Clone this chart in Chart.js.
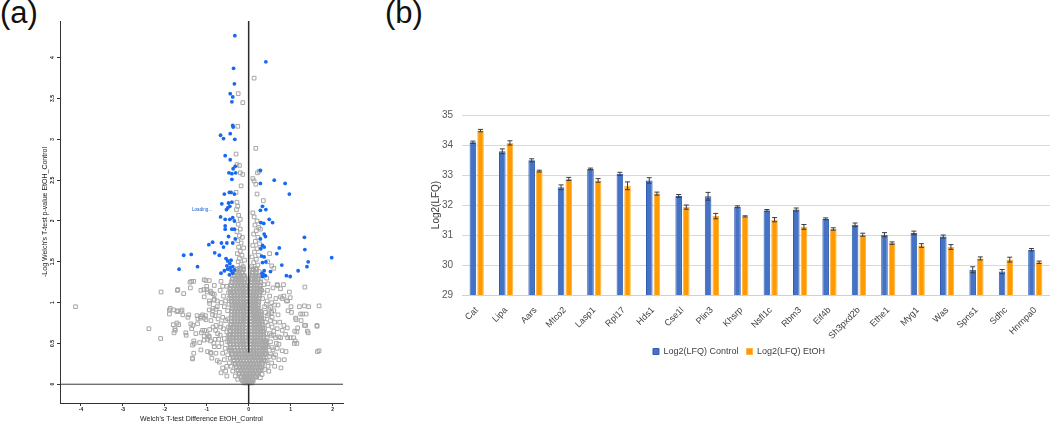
<!DOCTYPE html>
<html><head><meta charset="utf-8">
<script src="https://cdn.jsdelivr.net/npm/chart.js@4.4.0/dist/chart.umd.min.js"></script>
<style>
html,body{margin:0;padding:0;background:#fff;width:1050px;height:423px;overflow:hidden;font-family:"Liberation Sans",Arial,sans-serif;}
.panel{position:absolute;}
.lbl{position:absolute;font-size:31px;color:#111;line-height:1;}
</style></head><body>
<div class="lbl" style="left:0;top:-3px">(a)</div>
<div class="lbl" style="left:385px;top:-3px">(b)</div>
<div class="panel" style="left:0;top:0;width:360px;height:423px"><canvas id="ca"></canvas></div>
<div style="position:absolute;left:192px;top:207px;font-size:4.6px;color:#1a5fd0;white-space:nowrap">Loading...</div>
<div class="panel" style="left:428px;top:0;width:622px;height:423px"><canvas id="cb"></canvas></div>
<script>
// ---------- Panel (a) volcano data ----------
const sigPoints = [
[-0.33,4.27],[0.41,3.95],[-0.36,3.87],[-0.34,3.68],[-0.44,3.56],[-0.38,3.52],[-0.40,3.46],
[-0.38,3.17],[-0.37,3.15],[-0.67,3.05],[-0.60,3.01],[-0.44,3.07],[-0.33,3.00],[-0.56,2.80],[-0.44,2.75],
[-0.32,2.67],[-0.37,2.64],[-0.47,2.59],[-0.40,2.58],[-0.31,2.59],[-0.40,2.51],
[-0.58,2.33],[-0.46,2.35],[-0.42,2.35],[-0.34,2.33],[-0.64,2.21],[-0.48,2.22],[-0.40,2.23],[-0.50,2.16],[-0.45,2.18],[-0.53,2.14],
[-0.67,2.05],[-0.56,2.02],[-0.45,2.02],[-0.38,2.04],[-0.34,2.00],[-0.56,1.94],[-0.56,1.90],[-0.40,1.90],[-0.34,1.90],
[-0.48,1.81],[-0.32,1.78],[-0.38,1.73],[-0.95,1.71],[-0.86,1.74],[-0.65,1.73],[-0.60,1.68],[-0.52,1.73],
[-0.81,1.61],[-0.70,1.58],[-1.55,1.58],[-1.37,1.59],[-1.66,1.41],[-1.22,1.44],
[-0.54,1.54],[-0.50,1.51],[-0.45,1.48],[-0.42,1.52],[-0.52,1.45],[-0.44,1.43],[-0.38,1.44],
[-0.66,1.36],[-0.58,1.39],[-0.50,1.41],[-0.46,1.34],[-0.38,1.36],[-0.34,1.40],[-0.42,1.39],
[0.28,2.62],[0.28,2.46],[0.61,2.50],[0.87,2.46],[0.97,2.33],[0.33,2.18],[0.41,2.14],[0.28,2.13],
[0.49,2.02],[0.57,1.98],[0.29,1.98],[0.36,1.97],[0.37,1.84],[0.40,1.81],[0.28,1.78],[0.33,1.70],[0.29,1.66],[0.37,1.68],
[0.73,1.67],[0.67,1.60],[1.33,1.80],[1.34,1.65],[1.42,1.50],[1.39,1.44],[1.98,1.55],[0.79,1.46],
[0.31,1.57],[0.37,1.56],[0.41,1.50],[0.33,1.49],[0.52,1.38],[0.32,1.36],[0.36,1.34],[0.40,1.33],[0.33,1.32],[0.37,1.39],
[0.90,1.33],[0.99,1.32],[1.18,1.39]
];
const grayOutliers = [
[-4.13,0.95],[-2.38,0.68],[-2.10,0.56],[-2.09,1.13],[-1.89,0.91],[-1.89,0.86],[-1.71,0.89],[-1.61,0.89],[-1.57,0.85],
[-1.80,0.73],[-1.76,0.68],[-1.78,0.63],[-1.69,1.16],[-1.55,1.11],[-1.49,0.60],[-1.45,0.82],[-1.40,1.25],[-1.36,1.26],
[-1.31,1.26],[-1.39,1.18],[-1.33,0.72],[-1.36,0.68],[-1.34,0.48],[-1.34,0.32],[-1.21,0.80],[-1.15,0.81],[-1.10,0.85],
[-1.06,0.81],[-1.13,0.63],[-1.06,0.59],[-0.98,0.55],[-1.17,0.51],[-1.02,1.27],[-0.98,0.40],[-1.07,1.16],[-0.99,1.13],
[-0.91,1.14],[-0.82,1.21],[-0.94,1.02],[-0.86,0.90],[-0.88,0.32],[-0.82,0.46],[-0.78,0.38],[-0.66,1.26],[-0.62,1.20],
[-1.70,1.15],[-1.87,0.93],[-1.79,0.91],[-1.69,0.90],[-1.59,0.91],[-1.43,0.85],[-1.23,0.84],[-1.03,0.84],
[-1.71,0.75],[-1.67,0.73],[-1.75,0.66],[-1.38,0.74],[-1.50,0.63],[-1.05,0.66],[-0.93,0.67],[-0.99,0.61],[-0.95,0.59],
[-1.31,0.53],[-0.91,0.53],[-0.91,0.39],[-1.31,0.38],[-0.94,1.27],[-1.00,1.16],[-0.90,1.12],[-0.82,1.10],[-0.93,0.99],
[-0.85,0.93],[-0.82,1.04],[-1.06,1.28],[-1.00,1.20],[-1.14,1.15],[-1.06,1.07],[-0.86,1.11],[-0.83,1.03],[-0.75,0.95],
[-0.94,0.91],[-0.86,0.85],[-1.14,0.83],[-1.02,0.79],[-1.22,0.74],[-1.10,0.66],[-1.26,0.62],[-0.94,0.58],[-0.79,0.66],
[-0.67,0.70],[-1.06,0.54],[-0.83,0.50],[-0.71,0.46],[-1.14,0.42],[-0.90,0.38],[-0.75,0.29],[-1.30,0.50],[-1.34,0.31],
[-0.68,1.15],[-0.60,1.08],[-0.65,1.00],[-0.58,0.95],[-0.70,0.88],[-0.62,0.82],[-0.55,0.78],[-0.66,0.74],[-0.60,0.68],
[-0.52,0.64],[-0.68,0.60],[-0.58,0.56],[-0.50,0.52],[-0.64,0.50],[-0.56,0.44],[-0.62,0.38],[-0.50,0.36],[-0.58,0.30],
[-0.46,0.26],[-0.52,0.22],[-0.70,0.27],[-0.48,1.12],[-0.52,1.20],[-0.55,1.02],[-0.50,0.90],[-0.48,0.70],[-0.72,0.55],
[-0.78,0.72],[-0.75,1.02],[-0.80,0.84],
[1.68,0.96],[1.29,0.86],[1.33,0.96],[1.25,0.78],[1.37,0.86],[1.63,0.71],[1.42,0.63],[1.33,0.72],[1.68,0.41],[1.09,0.50],
[1.15,0.50],[0.93,0.57],[0.99,0.57],[0.97,1.13],[0.99,1.06],[0.83,1.22],[0.69,1.21],[1.34,1.19],[1.10,0.65],[1.17,0.69],
[0.77,0.20],[0.85,0.30],[0.89,0.40],[0.93,1.02],[1.01,0.95],[1.13,0.79],[0.76,1.07],[0.80,1.05],[0.84,1.08],[0.90,1.02],
[0.94,0.90],[1.02,0.88],[1.12,0.81],[1.21,0.95],[1.43,0.95],[1.24,0.86],[1.36,0.72],[1.40,0.65],[1.63,0.72],[1.64,0.40],
[1.07,0.57],[1.11,0.53],[1.15,0.64],[0.84,0.72],[0.92,0.69],[0.88,0.61],[0.76,0.57],[0.72,0.49],[0.80,0.41],[0.60,0.65],
[0.64,0.57],[0.56,0.45],[0.52,0.37],[0.60,0.33],[0.44,0.29],[0.68,1.22],[0.76,1.17],[0.44,1.02],[0.52,0.94],[0.48,0.86],
[0.56,0.82],[0.43,1.30],[0.46,1.23],
[0.45,1.15],[0.50,1.08],[0.42,0.98],[0.55,1.00],[0.48,0.92],[0.60,0.90],[0.45,0.84],[0.52,0.78],[0.62,0.76],[0.46,0.72],
[0.56,0.70],[0.68,0.68],[0.50,0.62],[0.60,0.60],[0.44,0.56],[0.52,0.52],[0.66,0.50],[0.46,0.46],[0.58,0.42],[0.42,0.38],
[0.50,0.34],[0.40,0.28],[0.46,0.22],[0.38,0.18],[0.70,0.85],[0.65,1.05],[0.58,1.18],[0.72,0.58],[0.64,0.36],[0.36,1.22]
];
const grayFill = [
[0.38,0.95],[0.40,0.88],[0.36,0.80],[0.40,0.76],[0.38,0.68],[0.41,0.62],[0.39,0.52],[0.37,0.44],[0.42,0.48],[0.33,1.05],
[0.36,1.12],[0.31,1.15],[0.54,0.60],[0.55,0.88],[0.62,0.97],[0.70,0.97],[0.74,0.76],[0.80,0.66],[0.68,0.44],[0.72,0.30],
[0.55,0.26],[0.62,0.22],[0.48,0.16],[0.32,0.12],[0.28,0.08],
[-0.48,0.60],[-0.50,0.80],[-0.47,0.98],[-0.47,1.05],[-0.46,0.42],[-0.44,0.32],[-0.42,0.22],[-0.38,0.16],[-0.32,0.10],
[-0.26,0.06],[-0.55,0.16],[-0.62,0.20],[-0.66,0.14],[-0.52,0.10],[-0.74,0.62],[-0.80,0.55],[-0.85,0.70],[-0.73,0.80],
[-0.90,0.78],[-0.78,0.92]
];
const grayArms = [
[-0.25,3.56],[-0.14,3.45],[-0.26,3.16],[-0.30,2.82],[-0.28,2.69],[-0.22,2.68],[-0.20,2.59],[-0.14,2.57],[-0.18,2.43],
[-0.30,2.35],[-0.28,2.23],[-0.26,2.18],[-0.29,2.14],[-0.24,2.07],[-0.20,2.02],[-0.25,1.96],[-0.20,1.90],[-0.28,1.87],
[-0.22,1.82],[-0.15,1.80],[-0.26,1.76],[-0.18,1.73],[-0.24,1.68],[-0.12,1.67],[-0.20,1.63],[-0.27,1.60],[-0.16,1.58],
[-0.22,1.54],[-0.10,1.52],[-0.25,1.50],[-0.18,1.47],[-0.13,1.44],[-0.22,1.42],[-0.28,1.38],[-0.16,1.36],[-0.10,1.33],
[-0.24,1.32],[-0.30,1.29],
[0.13,3.75],[0.17,2.89],[0.21,2.59],[0.25,2.61],[0.10,2.52],[0.13,2.49],[0.17,2.45],[0.20,2.33],[0.10,2.10],[0.13,2.05],
[0.20,2.00],[0.15,1.95],[0.24,1.92],[0.18,1.88],[0.12,1.84],[0.22,1.80],[0.16,1.75],[0.26,1.72],[0.10,1.70],[0.20,1.66],
[0.14,1.62],[0.24,1.58],[0.08,1.56],[0.18,1.53],[0.12,1.49],[0.22,1.46],[0.07,1.44],[0.16,1.41],[0.25,1.38],[0.10,1.36],
[0.20,1.33],[0.14,1.30],[0.45,1.50],[0.50,1.60],[0.55,1.45],[0.60,1.42],[0.28,1.90],[0.35,2.25]
];
// dense core: each row = [y, [x values]]
const grayCoreRows = [
[0.02,[-0.10,-0.04,0.02,0.07]],
[0.05,[-0.14,-0.08,-0.02,0.04,0.10]],
[0.09,[-0.18,-0.11,-0.05,0.01,0.07,0.13,0.17]],
[0.13,[-0.22,-0.15,-0.08,-0.02,0.05,0.11,0.18,0.22]],
[0.17,[-0.25,-0.18,-0.11,-0.04,0.03,0.09,0.16,0.23,0.27]],
[0.21,[-0.29,-0.21,-0.14,-0.07,0.00,0.06,0.13,0.20,0.27,0.31]],
[0.25,[-0.32,-0.25,-0.17,-0.10,-0.03,0.04,0.11,0.18,0.25,0.32]],
[0.29,[-0.35,-0.27,-0.20,-0.13,-0.05,0.02,0.09,0.16,0.23,0.30,0.36]],
[0.33,[-0.37,-0.29,-0.22,-0.14,-0.07,0.00,0.07,0.14,0.21,0.28,0.35]],
[0.37,[-0.39,-0.31,-0.24,-0.16,-0.09,-0.02,0.05,0.12,0.19,0.26,0.33,0.39]],
[0.41,[-0.41,-0.33,-0.25,-0.18,-0.10,-0.03,0.04,0.11,0.18,0.25,0.32,0.40]],
[0.45,[-0.43,-0.35,-0.27,-0.19,-0.12,-0.05,0.05,0.12,0.19,0.26,0.33,0.40]],
[0.49,[-0.44,-0.36,-0.28,-0.20,-0.13,-0.06,0.06,0.13,0.20,0.27,0.34,0.41]],
[0.53,[-0.45,-0.37,-0.29,-0.21,-0.14,-0.07,0.06,0.13,0.20,0.27,0.34,0.40]],
[0.57,[-0.45,-0.37,-0.30,-0.22,-0.15,-0.08,0.07,0.14,0.21,0.28,0.35]],
[0.61,[-0.44,-0.36,-0.29,-0.22,-0.15,-0.08,0.07,0.14,0.21,0.28,0.35]],
[0.65,[-0.44,-0.36,-0.29,-0.22,-0.15,-0.08,0.07,0.14,0.21,0.28,0.34]],
[0.69,[-0.43,-0.35,-0.28,-0.21,-0.14,-0.07,0.07,0.14,0.20,0.27,0.33]],
[0.73,[-0.42,-0.35,-0.28,-0.21,-0.14,-0.07,0.06,0.13,0.20,0.26,0.32]],
[0.77,[-0.41,-0.34,-0.27,-0.20,-0.13,-0.07,0.06,0.13,0.19,0.25,0.31]],
[0.81,[-0.41,-0.34,-0.27,-0.20,-0.13,-0.07,0.06,0.12,0.18,0.25,0.30]],
[0.85,[-0.40,-0.33,-0.26,-0.19,-0.12,-0.06,0.06,0.12,0.18,0.24,0.29]],
[0.89,[-0.40,-0.33,-0.26,-0.19,-0.12,-0.06,0.05,0.11,0.17,0.23,0.28]],
[0.93,[-0.39,-0.32,-0.25,-0.18,-0.12,-0.06,0.05,0.11,0.17,0.22]],
[0.97,[-0.39,-0.32,-0.25,-0.18,-0.11,-0.05,0.05,0.11,0.16,0.22]],
[1.01,[-0.40,-0.33,-0.26,-0.19,-0.12,-0.06,0.05,0.11,0.17,0.23]],
[1.05,[-0.41,-0.34,-0.27,-0.20,-0.13,-0.06,0.05,0.11,0.18,0.24]],
[1.09,[-0.42,-0.35,-0.27,-0.20,-0.13,-0.06,0.05,0.11,0.18,0.25]],
[1.13,[-0.43,-0.35,-0.28,-0.20,-0.13,-0.07,0.05,0.12,0.19,0.26]],
[1.17,[-0.44,-0.36,-0.28,-0.21,-0.14,-0.07,0.06,0.13,0.20,0.27]],
[1.21,[-0.42,-0.34,-0.27,-0.20,-0.13,-0.07,0.06,0.13,0.20,0.27]],
[1.25,[-0.40,-0.32,-0.25,-0.18,-0.11,0.07,0.14,0.21,0.28]],
[1.29,[-0.38,-0.30,-0.23,-0.16,-0.09,0.08,0.15,0.22]],
[1.33,[-0.34,-0.27,-0.20,-0.13,0.09,0.16,0.23]],
[1.37,[-0.30,-0.23,-0.16,0.10,0.17]],
[1.41,[-0.27,-0.20,-0.13,0.11,0.18]]
];
const volcanoXRange = [-4.5, 2.25];
const volcanoYRange = [-0.23, 4.45];
const vLineTop = [0.39, 4.45];

// ---------- Panel (b) bar data ----------
const barCategories = ['Cat','Lipa','Aars','Mtco2','Lasp1','Rpl17','Hds1','Cse1l','Plin3','Khsrp','Nsfl1c','Rbm3','Eif4b','Sh3pxd2b','Ethe1','Myg1','Was','Spns1','Sdhc','Hnrnpa0'];
const controlValues = [34.09,33.79,33.49,32.59,33.20,33.04,32.82,32.30,32.29,31.94,31.82,31.85,31.54,31.34,31.01,31.07,30.95,29.84,29.78,30.51];
const etohValues    = [34.48,34.07,33.13,32.87,32.82,32.64,32.38,31.93,31.63,31.62,31.51,31.27,31.20,31.01,30.73,30.65,30.60,30.22,30.18,30.09];
const controlErr    = [0.04,0.08,0.05,0.08,0.03,0.05,0.09,0.05,0.13,0.03,0.03,0.05,0.03,0.06,0.07,0.06,0.05,0.10,0.07,0.04];
const etohErr       = [0.04,0.07,0.03,0.05,0.06,0.13,0.05,0.07,0.09,0.02,0.07,0.08,0.04,0.05,0.04,0.06,0.08,0.05,0.08,0.04];

// ---------- build ----------
const toXY = a => a.map(p => ({x:p[0], y:p[1]}));
const graySparse = toXY(grayOutliers).concat(toXY(grayArms), toXY(grayFill));
const grayCore = [];
grayCoreRows.forEach(r => r[1].forEach(x => grayCore.push({x:x, y:r[0]})));

const FAM = '"Liberation Sans", Arial, sans-serif';
const axisFontA = {family:FAM, size:5, weight:'bold'};
const titleFontA = {family:FAM, size:7};

new Chart(document.getElementById('ca'), {
  type:'scatter',
  data:{datasets:[
    {data:[{x:0,y:vLineTop[0]},{x:0,y:vLineTop[1]}], showLine:true, borderColor:'#2a2a2a', borderWidth:1.5, pointRadius:0},
    {data:[{x:0,y:volcanoYRange[0]},{x:0,y:0}], showLine:true, borderColor:'#2a2a2a', borderWidth:1.5, pointRadius:0},
    {data:[{x:volcanoXRange[0],y:0},{x:volcanoXRange[1],y:0}], showLine:true, borderColor:'#3a3a3a', borderWidth:1, pointRadius:0},
    {data:toXY(sigPoints), pointStyle:'circle', pointRadius:1.9, backgroundColor:'#1769f0', borderWidth:0},
    {data:graySparse, pointStyle:'rect', pointRadius:2.6, backgroundColor:'rgba(0,0,0,0)', borderColor:'#a6a6a6', borderWidth:1},
    {data:grayCore, pointStyle:'rect', pointRadius:2.7, backgroundColor:'rgba(0,0,0,0)', borderColor:'#a8a8a8', borderWidth:1.6}
  ]},
  options:{
    responsive:true, maintainAspectRatio:false, animation:false,
    layout:{padding:{left:38, top:21, right:17, bottom:0}},
    plugins:{legend:{display:false}, tooltip:{enabled:false}},
    scales:{
      x:{type:'linear', min:volcanoXRange[0], max:volcanoXRange[1],
         afterFit(s){s.height=20;},
         grid:{display:true, drawOnChartArea:false, drawTicks:true, tickLength:3, color:'#333'},
         border:{display:true, color:'#333', width:1},
         ticks:{stepSize:1, includeBounds:false, font:axisFontA, color:'#222', padding:1, maxRotation:0, callback:v => String(v)},
         title:{display:true, text:"Welch's T-test Difference EtOH_Control", font:titleFontA, color:'#222', padding:{top:0,bottom:0}}},
      y:{type:'linear', min:volcanoYRange[0], max:volcanoYRange[1],
         afterFit(s){s.width=22;},
         grid:{display:true, drawOnChartArea:false, drawTicks:true, tickLength:3, color:'#333'},
         border:{display:true, color:'#333', width:1},
         ticks:{stepSize:0.5, includeBounds:false, font:axisFontA, color:'#222', padding:1, minRotation:90, maxRotation:90, crossAlign:'center', callback:v => String(v)},
         title:{display:true, text:"-Log Welch's T-test p-value EtOH_Control", font:titleFontA, color:'#222', padding:{top:2.5,bottom:0}}}
    }
  }
});

const errorBars = {
  id:'errorBars',
  afterDatasetsDraw(chart){
    const ctx = chart.ctx, ys = chart.scales.y;
    chart.data.datasets.forEach((ds,i) => {
      const meta = chart.getDatasetMeta(i);
      meta.data.forEach((bar,j) => {
        const v = ds.data[j], e = ds.errors[j];
        const x = bar.x, t = ys.getPixelForValue(v+e), b = ys.getPixelForValue(v-e);
        ctx.save();
        ctx.strokeStyle = '#3d3d3d'; ctx.lineWidth = 1;
        ctx.beginPath();
        ctx.moveTo(x,t); ctx.lineTo(x,b);
        ctx.moveTo(x-2.5,t); ctx.lineTo(x+2.5,t);
        ctx.moveTo(x-2.5,b); ctx.lineTo(x+2.5,b);
        ctx.stroke();
        ctx.restore();
      });
    });
  }
};

new Chart(document.getElementById('cb'), {
  type:'bar',
  data:{labels:barCategories, datasets:[
    {label:'Log2(LFQ) Control', data:controlValues, errors:controlErr, backgroundColor:'#4472c4', borderColor:'#2f5db0', borderWidth:1, categoryPercentage:0.52, barPercentage:0.86},
    {label:'Log2(LFQ) EtOH', data:etohValues, errors:etohErr, backgroundColor:'#ff9b00', borderColor:'#ffb540', borderWidth:1, categoryPercentage:0.52, barPercentage:0.86}
  ]},
  plugins:[errorBars],
  options:{
    responsive:true, maintainAspectRatio:false, animation:false,
    layout:{padding:{left:0, top:115, right:0, bottom:57}},
    plugins:{
      tooltip:{enabled:false},
      legend:{display:true, position:'bottom',
        labels:{boxWidth:6, boxHeight:6, padding:8, color:'#404040', font:{family:FAM, size:9}}}
    },
    scales:{
      x:{afterFit(s){s.height=44;},
         grid:{display:false},
         border:{display:true, color:'#d0d0d0', width:1},
         ticks:{minRotation:45, maxRotation:45, autoSkip:false, color:'#404040', font:{family:FAM, size:9}, padding:2}},
      y:{min:29, max:35,
         afterFit(s){s.width=34;},
         grid:{color:'#d9d9d9', lineWidth:1, drawTicks:false},
         border:{display:false},
         ticks:{stepSize:1, color:'#595959', font:{family:FAM, size:10}, padding:9},
         title:{display:true, text:'Log2(LFQ)', color:'#404040', font:{family:FAM, size:10}, padding:{top:2,bottom:0}}}
    }
  }
});
</script>
</body></html>
